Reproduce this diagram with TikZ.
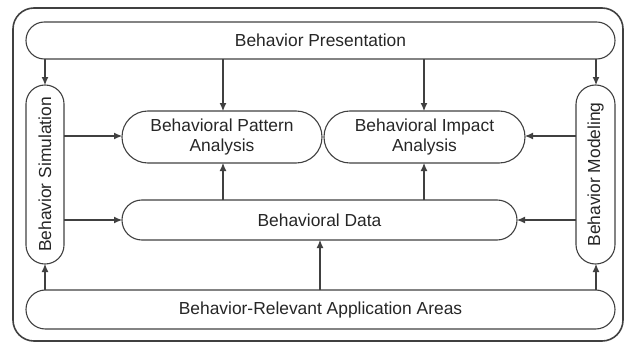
\documentclass[tikz,border=0pt]{standalone}
\usepackage{fontspec}
\setmainfont{Liberation Sans}
\usetikzlibrary{arrows.meta}
\begin{document}
\begin{tikzpicture}[x=1pt,y=-1pt,
  line col/.style={draw=black!75},
  pill/.style={line col, line width=1.1pt, rounded corners=18pt},
  lbl/.style={text=black!85, font=\fontsize{17.4}{20}\selectfont, align=center},
  arr/.style={line col, line width=1.1pt, -{Latex[length=8pt,width=7pt]}}]
\useasboundingbox (0,0) rectangle (626,343);
\draw[line col, line width=1.6pt, rounded corners=21pt] (13,8) rectangle (623,341);
% boxes
\draw[pill, rounded corners=18.4pt] (26,22) rectangle (615,59);
\node[lbl] (pres) at (320.5,40.5) {Behavior Presentation};
\coordinate (presL) at (45,59); \coordinate (presP) at (223,59);
\coordinate (presI) at (424,59); \coordinate (presM) at (596,59);

\draw[pill, rounded corners=19.4pt] (26,290) rectangle (615,329);
\node[lbl] (app) at (320.5,309.5) {Behavior-Relevant Application Areas};
\coordinate (appL) at (45,290); \coordinate (appD) at (320,290); \coordinate (appM) at (596,290);

\draw[pill, rounded corners=18.9pt] (26,85) rectangle (64,264);
\node[lbl, rotate=90] (sim) at (45,174.5) {Behavior Simulation};
\coordinate (simT) at (45,85); \coordinate (simB) at (45,264);
\coordinate (simP) at (64,136); \coordinate (simD) at (64,220);

\draw[pill, rounded corners=19.4pt] (576,85) rectangle (615,264);
\node[lbl, rotate=90] (mod) at (595.5,174.5) {Behavior Modeling};
\coordinate (modT) at (596,85); \coordinate (modB) at (596,264);
\coordinate (modI) at (576,136); \coordinate (modD) at (576,220);

\draw[pill, rounded corners=25.9pt] (122,111) rectangle (322,163);
\node[lbl] (pat) at (222,137) {Behavioral Pattern\\Analysis};
\coordinate (patT) at (223,111); \coordinate (patB) at (223,163);
\coordinate (patL) at (122,136);

\draw[pill, rounded corners=25.9pt] (324,111) rectangle (525,163);
\node[lbl] (imp) at (424.5,137) {Behavioral Impact\\Analysis};
\coordinate (impT) at (424,111); \coordinate (impB) at (424,163);
\coordinate (impR) at (525,136);

\draw[pill, rounded corners=19.9pt] (122,200) rectangle (517,240);
\node[lbl] (data) at (319.5,220) {Behavioral Data};
\coordinate (dataT1) at (223,200); \coordinate (dataT2) at (424,200);
\coordinate (dataB) at (320,240); \coordinate (dataL) at (122,220);
\coordinate (dataR) at (517,220);

% arrows
\draw[arr] (presL) -- (simT);
\draw[arr] (presP) -- (patT);
\draw[arr] (presI) -- (impT);
\draw[arr] (presM) -- (modT);
\draw[arr] (simP) -- (patL);
\draw[arr] (simD) -- (dataL);
\draw[arr] (modI) -- (impR);
\draw[arr] (modD) -- (dataR);
\draw[arr] (dataT1) -- (patB);
\draw[arr] (dataT2) -- (impB);
\draw[arr] (appL) -- (simB);
\draw[arr] (appD) -- (dataB);
\draw[arr] (appM) -- (modB);
\end{tikzpicture}
\end{document}
